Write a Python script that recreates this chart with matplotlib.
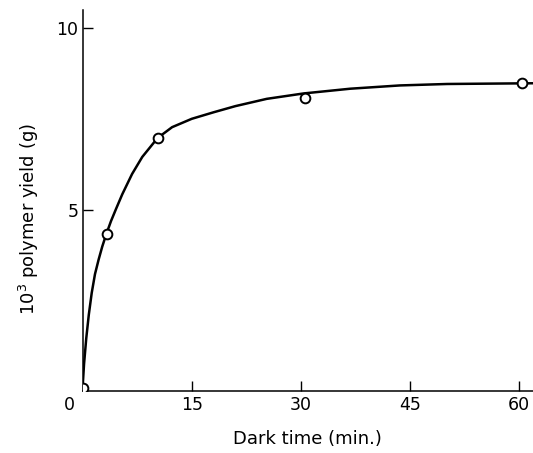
import matplotlib

matplotlib.use("Agg")
import matplotlib.pyplot as plt
from matplotlib.transforms import ScaledTranslation

# measured points (dark time in min, 10^3 polymer yield in g)
time_pts = [0.1, 3.3, 10.3, 30.6, 60.4]
yield_pts = [0.08, 4.32, 6.96, 8.06, 8.49]

# hand-drawn fitted curve
curve_t = [0.0, 0.2, 0.5, 0.85, 1.25, 1.7, 2.2, 2.7, 3.25, 3.9, 4.6, 5.45,
           6.8, 8.2, 10.3, 12.3, 15.0, 18.0, 21.0, 25.3, 30.4, 36.8, 43.6,
           50.1, 61.9]
curve_y = [0.1, 0.75, 1.45, 2.1, 2.7, 3.22, 3.62, 3.98, 4.32, 4.68, 5.02,
           5.42, 5.98, 6.45, 6.97, 7.27, 7.5, 7.68, 7.85, 8.05, 8.2, 8.33,
           8.42, 8.46, 8.48]

x_ticks = [0, 15, 30, 45, 60]
y_ticks = [5, 10]

plt.rcParams.update({"font.family": "DejaVu Sans"})

fig = plt.figure(figsize=(5.33, 4.53), dpi=100)
ax = fig.add_axes([0.155, 0.137, 0.845, 0.841])

ax.plot(curve_t, curve_y, color="black", lw=1.8, zorder=3)
ax.plot(time_pts, yield_pts, "o", ms=7, mfc="white", mec="black", mew=1.4,
        zorder=4)

ax.set_xlim(0, 61.9)
ax.set_ylim(0, 10.5)
ax.set_xticks(x_ticks)
ax.set_yticks(y_ticks)
ax.tick_params(direction="in", length=7, width=1.0, labelsize=12.5, pad=4)
ax.tick_params(axis="y", pad=3)
zero_tick = ax.xaxis.get_major_ticks()[0]
zero_tick.tick1line.set_visible(False)
zero_tick.label1.set_transform(zero_tick.label1.get_transform()
                               + ScaledTranslation(-0.13, 0, fig.dpi_scale_trans))

for side in ("top", "right"):
    ax.spines[side].set_visible(False)
for side in ("left", "bottom"):
    ax.spines[side].set_linewidth(1.1)

ax.set_xlabel("Dark time (min.)", fontsize=13, labelpad=11)
ax.set_ylabel("10$^3$ polymer yield (g)", fontsize=13)
ax.yaxis.set_label_coords(-0.092, 0.45)

fig.savefig("out.png", dpi=100)
